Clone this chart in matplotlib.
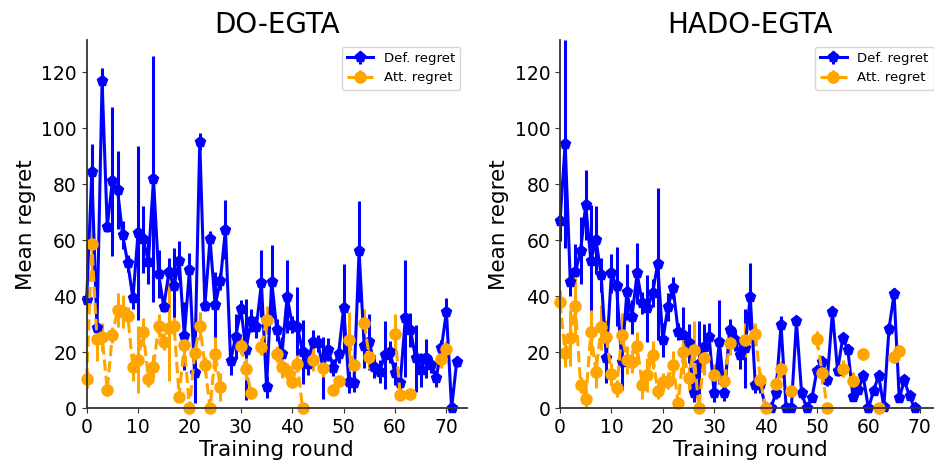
import numpy as np
import matplotlib
matplotlib.use("Agg")
import matplotlib.pyplot as plt

nan = np.nan

# ---------------- DO-EGTA ----------------
do_def = [38.7, 84.3, 28.6, 116.7, 64.9, 81.0, 78.0, 61.9, 51.8, 39.3,
          62.7, 60.4, 52.4, 81.8, 47.9, 36.3, 48.6, 43.7, 52.7, 25.8,
          49.4, 12.5, 95.2, 36.6, 60.4, 36.8, 45.4, 63.8, 17.0, 25.6,
          35.5, 21.0, 31.3, 29.0, 44.6, 7.7, 45.2, 28.0, 19.4, 39.9,
          29.8, 29.2, 20.2, 16.0, 23.8, 23.2, 14.3, 21.0, 14.5, 19.3,
          35.7, 9.5, 8.9, 56.0, 22.3, 23.8, 14.9, 13.1, 19.0, 20.2,
          12.5, 8.9, 32.1, 28.0, 17.9, 13.7, 17.9, 15.5, 10.7, 21.4,
          34.5, 0.0, 16.7]
do_def_err = [4, 10, 3, 4.7, 2, 26.5, 14, 5, 3, 4,
              31, 12, 8, 44, 8.6, 2, 5, 13.6, 7, 12,
              6, 10.7, 3, 2, 3, 12, 3, 10.6, 5, 8,
              3, 18, 4, 4, 12, 4, 13, 4, 6, 13,
              3, 14, 11.5, 4, 4, 3, 11, 4, 3, 3,
              16, 4, 3, 18, 8, 10, 4, 4, 12, 4,
              4, 3, 21, 6, 12, 6, 7, 3, 3, 3,
              5, 0, 2]
do_att = [10.4, 58.7, 24.8, 25.6, 6.5, 26.2, 35.1, 34.5, 33.0, 14.6,
          17.3, 27.4, 10.5, 14.9, 29.5, 23.8, 28.6, 29.5, 4.2, 22.6,
          0.0, 19.6, 29.5, 15.5, 0.0, 19.4, 7.7, nan, nan, nan,
          22.4, 14.0, 5.5, nan, 22.0, 31.6, nan, 19.4, 14.9, 13.3,
          9.4, 16.0, 0.0, nan, 17.4, nan, 14.3, nan, 6.6, 9.7,
          nan, 24.4, 15.5, nan, 30.6, 18.2, nan, nan, nan, nan,
          26.5, 4.8, nan, 5.1, nan, nan, nan, nan, nan, 17.5,
          21.1, nan, nan]
do_att_err = [3, 10, 8, 5, 2, 3, 6, 6, 3, 5,
              12, 5, 3, 4, 4, 3, 19, 3, 2, 4,
              0, 3, 5, 3, 0, 6, 5, nan, nan, nan,
              3, 4, 2, nan, 3, 5, nan, 3, 4, 3,
              2, 3, 0, nan, 4, nan, 3, nan, 2, 2,
              nan, 10, 3, nan, 5, 4, nan, nan, nan, nan,
              7, 2, nan, 2, nan, nan, nan, nan, nan, 3,
              3, nan, nan]

# ---------------- HADO-EGTA ----------------
hado_def = [66.9, 94.4, 45.2, 48.6, 56.3, 72.6, 52.7, 60.1, 47.6, 17.9,
            48.2, 43.5, 16.7, 41.4, 32.7, 48.2, 37.5, 35.7, 41.1, 51.5,
            24.4, 36.3, 42.9, 27.4, 26.0, 23.2, 5.3, 16.0, 22.0, 25.6,
            5.3, 23.8, 5.6, 27.9, 24.4, 19.0, 21.4, 39.9, 8.3, 8.3,
            0.0, 0.0, 5.4, 29.8, 0.0, 0.0, 31.0, 5.4, 0.0, 3.6,
            13.5, 16.7, 10.1, 34.5, 13.5, 25.0, 21.0, 4.0, 6.6, 11.4,
            0.0, 6.2, 11.7, 0.5, 28.3, 40.9, 3.6, 10.0, 4.3, 0.0]
hado_def_err = [7, 37, 5, 10, 12, 12.5, 20, 12, 6, 9,
                7, 14, 10, 10, 6, 11, 4, 12, 5, 27,
                6, 5, 4, 3, 10, 7, 3, 15, 8, 5,
                3, 15, 3, 4, 4, 5, 14, 12, 3, 3,
                0, 0, 2, 3, 0, 0, 2, 2, 0, 1,
                2, 2, 2, 2, 2, 2, 2, 1, 1, 2,
                0, 1, 2, 0, 2, 2, 1, 2, 1, 0]
hado_att = [38.1, 19.6, 25.0, 36.5, 8.3, 3.3, 27.1, 13.1, 28.9, 25.6,
            12.1, 7.1, 26.2, 17.3, 16.7, 22.3, 8.3, 11.9, 19.0, 6.2,
            9.5, 9.9, 15.5, 2.0, 20.2, 10.7, 21.0, 0.0, 18.0, nan,
            11.9, nan, 9.9, 23.2, nan, nan, 24.4, nan, 26.4, 10.0,
            0.0, nan, 8.7, 13.9, nan, 6.2, nan, nan, nan, nan,
            24.7, 12.7, 0.0, nan, nan, 14.1, nan, 9.8, nan, 19.4,
            nan, nan, 0.0, nan, nan, 18.2, 20.6, nan, nan, nan]
hado_att_err = [4, 5, 10, 12, 3, 3, 8, 6, 8, 6,
                4, 3, 8, 5, 4, 5, 5, 6, 5, 3,
                3, 3, 5, 2, 8, 4, 10, 0, 6, nan,
                4, nan, 3, 4, nan, nan, 6, nan, 4, 3,
                0, nan, 3, 3, nan, 2, nan, nan, nan, nan,
                3, 4, 0, nan, nan, 3, nan, 3, nan, 2,
                nan, nan, 0, nan, nan, 2, 2, nan, nan, nan]

titles = ["DO-EGTA", "HADO-EGTA"]
panels = [(do_def, do_def_err, do_att, do_att_err),
          (hado_def, hado_def_err, hado_att, hado_att_err)]

fig = plt.figure(figsize=(9.34, 4.63), dpi=100)
axes = [fig.add_axes([0.0928, 0.1181, 0.4072, 0.7955]),
        fig.add_axes([0.5996, 0.1181, 0.4072, 0.7955])]

for ax, title, (dv, de, av, ae) in zip(axes, titles, panels):
    xd = np.arange(len(dv))
    xa = np.arange(len(av))
    c1 = ax.errorbar(xd, dv, yerr=de, color="blue", marker="p", markersize=8,
                     linewidth=2.2, elinewidth=2.2, capsize=0, label="Def. regret")
    c2 = ax.errorbar(xa, np.array(av, dtype=float), yerr=np.array(ae, dtype=float),
                     color="orange", marker="o", markersize=8, linestyle="--",
                     linewidth=2.2, elinewidth=2.2, capsize=0, label="Att. regret")
    c1[0].set_clip_on(False)
    c2[0].set_clip_on(False)
    ax.set_xlim(0, 74)
    ax.set_ylim(0, 131.5)
    ax.set_xticks(range(0, 71, 10))
    ax.set_yticks(range(0, 121, 20))
    ax.set_title(title, fontsize=20, pad=5)
    ax.set_xlabel("Training round", fontsize=15.5, labelpad=2)
    ax.set_ylabel("Mean regret", fontsize=15.5)
    ax.tick_params(labelsize=13.5, length=3.5, color="0.2")
    for s in ["top", "right"]:
        ax.spines[s].set_visible(False)
    for s in ["left", "bottom"]:
        ax.spines[s].set_color("0.2")
        ax.spines[s].set_linewidth(1.3)
    ax.legend(loc="upper right", fontsize=9.5)

fig.savefig("out.png", dpi=100)
